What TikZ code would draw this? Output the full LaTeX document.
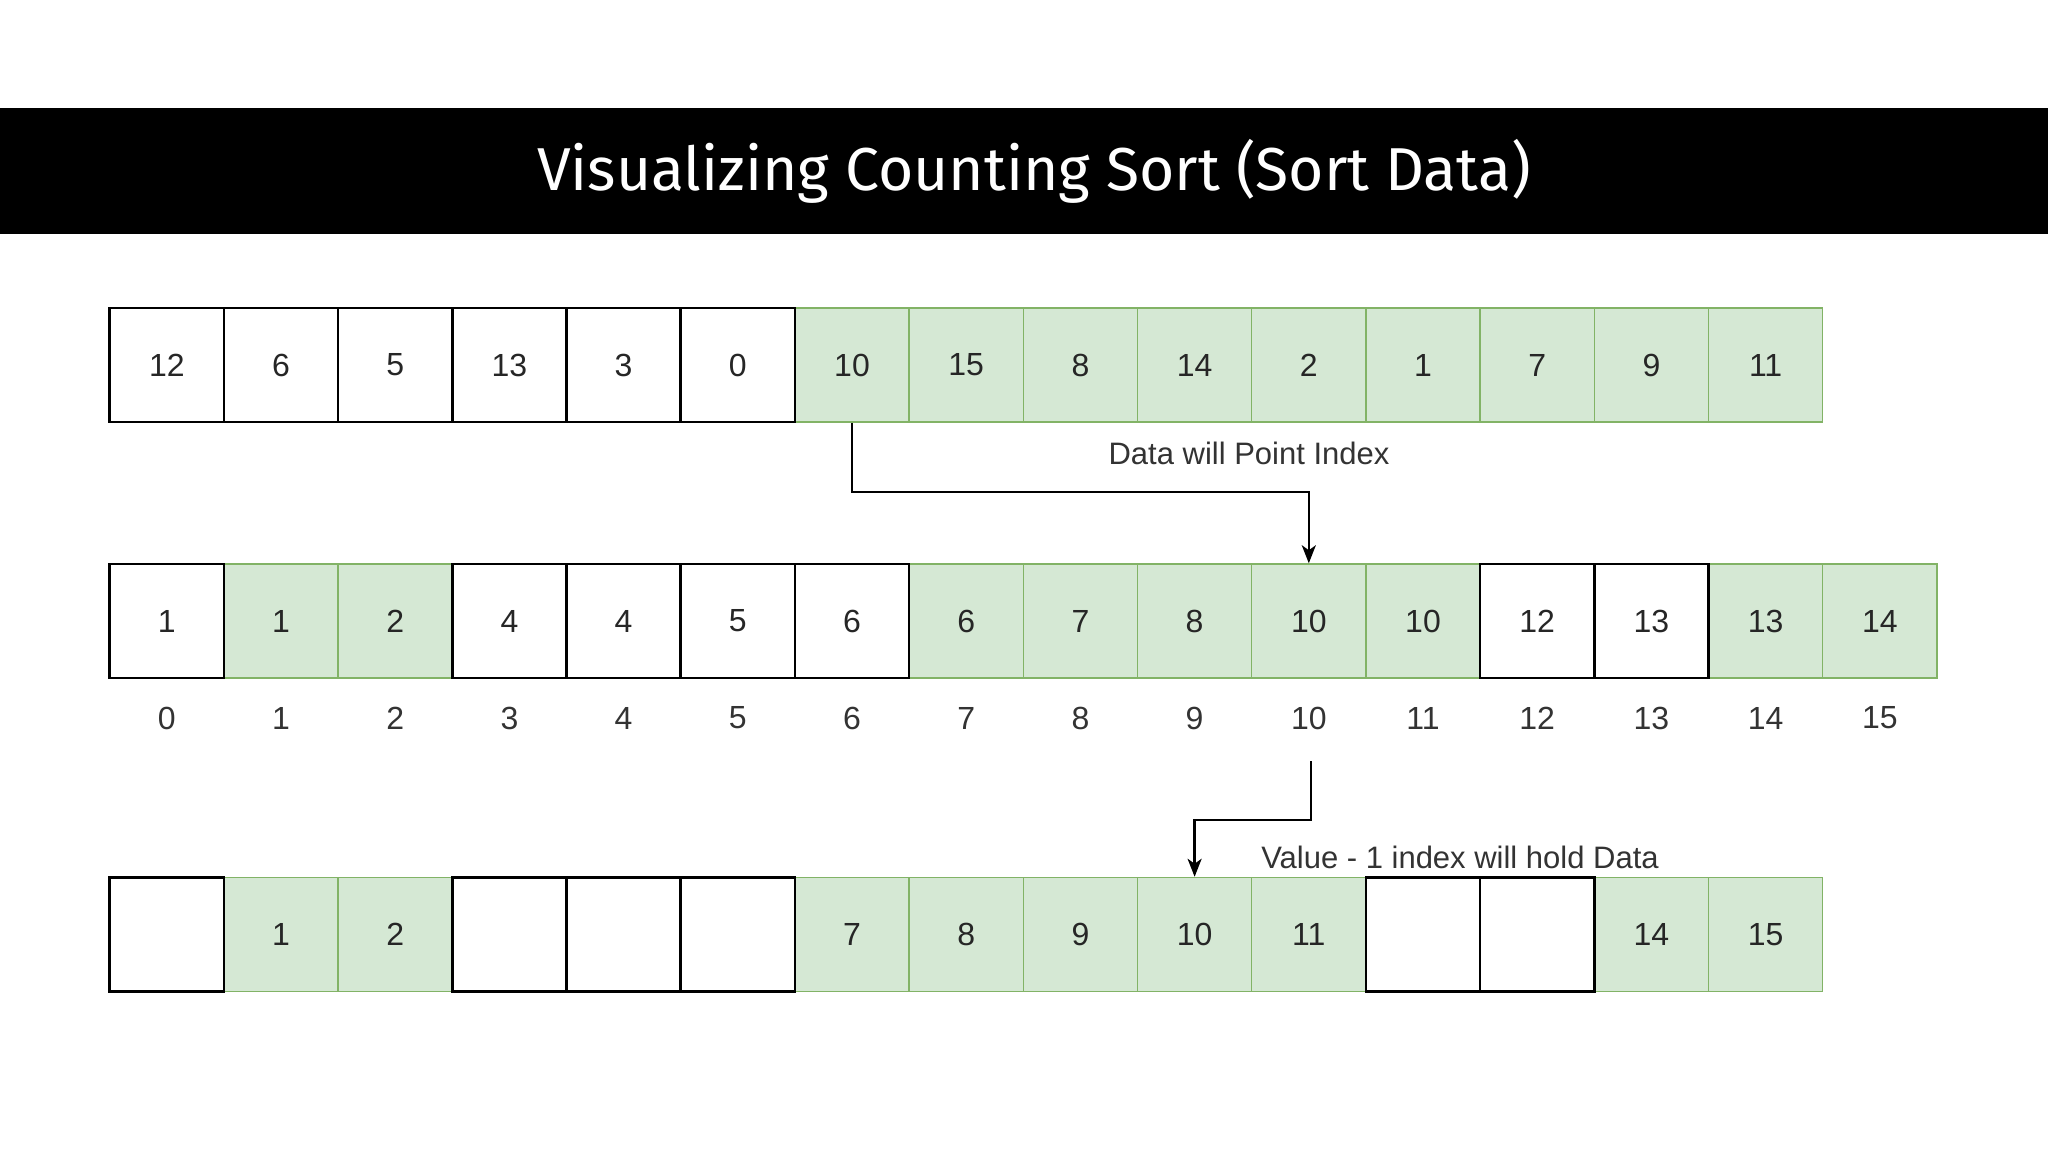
\documentclass[tikz,border=0pt]{standalone}
\usepackage{fontspec}
\setmainfont{Liberation Sans}
\newfontfamily\titlefont{Fira Sans}
\usetikzlibrary{arrows.meta}
\definecolor{gfill}{HTML}{D5E8D4}
\definecolor{gline}{HTML}{82B366}
\begin{document}
\begin{tikzpicture}[x=0.5pt,y=-0.5pt,
 cell/.style={minimum width=57.1pt,minimum height=57pt,inner sep=0pt,font=\fontsize{16}{19}\selectfont,text=black!85},
 gcell/.style={cell,fill=gfill,draw=gline,line width=0.75pt},
 wcell/.style={cell,fill=white,draw=black,line width=1.25pt},
 idx/.style={font=\fontsize{16}{19}\selectfont,text=black!80},
 lbl/.style={font=\fontsize{15.5}{18}\selectfont,text=black!80},
 conn/.style={line width=1.2pt,-{Stealth[length=9pt,width=7pt,inset=2.5pt]}}]
\useasboundingbox (0,0) rectangle (2048,1152);
\fill[white] (0,0) rectangle (2048,1152);
\fill[black] (0,108) rectangle (2048,234);
\node[text=white,anchor=base,inner sep=0pt,font=\titlefont\fontsize{30.3}{34}\selectfont] (title) at (1034,190) {Visualizing Counting Sort (Sort Data)};
% row 1
\foreach \i/\v in {6/10,7/15,8/8,9/14,10/2,11/1,12/7,13/9,14/11}
  \node[gcell] (r1c\i) at ({166.8+114.2*\i},365) {\v};
\foreach \i/\v in {0/12,1/6,2/5,3/13,4/3,5/0}
  \node[wcell] (r1c\i) at ({166.8+114.2*\i},365) {\v};
% row 2
\foreach \i/\v in {1/1,2/2,7/6,8/7,9/8,10/10,11/10,14/13,15/14}
  \node[gcell] (r2c\i) at ({166.8+114.2*\i},621) {\v};
\foreach \i/\v in {0/1,3/4,4/4,5/5,6/6,12/12,13/13}
  \node[wcell] (r2c\i) at ({166.8+114.2*\i},621) {\v};
\foreach \i in {0,...,15}
  \node[idx] (i\i) at ({166.8+114.2*\i},718) {\i};
% row 3
\foreach \i/\v in {1/1,2/2,6/7,7/8,8/9,9/10,10/11,13/14,14/15}
  \node[gcell] (r3c\i) at ({166.8+114.2*\i},934.5) {\v};
\foreach \i in {0,3,4,5,11,12}
  \node[wcell] (r3c\i) at ({166.8+114.2*\i},934.5) {};
% labels
\node[lbl] (lab1) at (1249,453) {Data will Point Index};
\node[lbl] (lab2) at (1460,857) {Value - 1 index will hold Data};
% connectors
\draw[conn] (r1c6.south) -- (r1c6.south |- 0,492) -| (r2c10.north);
\coordinate (s2) at (1311,761);
\draw[conn] (s2) -- (s2 |- 0,820) -| (r3c9.north);
\end{tikzpicture}
\end{document}
